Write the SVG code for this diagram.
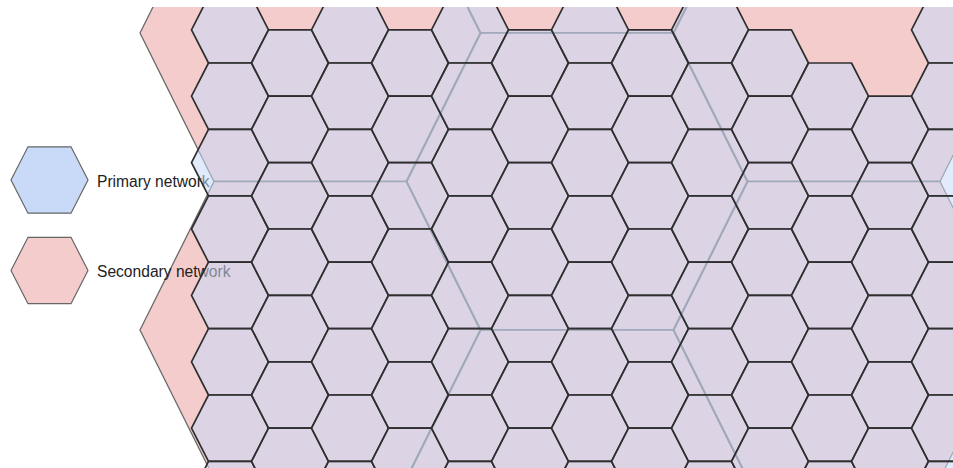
<svg xmlns="http://www.w3.org/2000/svg" xmlns:xlink="http://www.w3.org/1999/xlink" width="953" height="468" viewBox="0 0 953 468">
  <style>
    .big { fill: #f4cccc; stroke: #6a6a6a; stroke-width: 1.3; }
    .cell { fill: #c9daf8; fill-opacity: 0.55; stroke: #2f2f2f; stroke-width: 1.7; stroke-linejoin: round; }
    .lg-p { fill: #c9daf8; stroke: #666666; stroke-width: 1.2; }
    .lg-s { fill: #f4cccc; stroke: #666666; stroke-width: 1.2; }
    .label { font-family: "Liberation Sans", Arial, sans-serif; font-size: 15.6px; fill: #222222; }
  </style>
  <defs>
    <clipPath id="view"><rect x="0" y="7" width="953" height="461"/></clipPath>
    <polygon id="h" points="-38.5,0 -21.5,-33.2 21.5,-33.2 38.5,0 21.5,33.2 -21.5,33.2"/>
    <polygon id="H" points="-170,0 -96,-148.5 96,-148.5 170,0 96,148.5 -96,148.5"/>
    <g id="colE">
      <use xlink:href="#h" y="96.2"/><use xlink:href="#h" y="162.6"/><use xlink:href="#h" y="229"/>
      <use xlink:href="#h" y="295.4"/><use xlink:href="#h" y="361.8"/><use xlink:href="#h" y="428.2"/>
      <use xlink:href="#h" y="494.6"/>
    </g>
    <g id="colO">
      <use xlink:href="#h" y="129.4"/><use xlink:href="#h" y="195.8"/><use xlink:href="#h" y="262.2"/>
      <use xlink:href="#h" y="328.6"/><use xlink:href="#h" y="395"/><use xlink:href="#h" y="461.4"/>
    </g>
  </defs>
  <rect width="953" height="468" fill="#ffffff"/>
  <g clip-path="url(#view)">
    <g id="secondary-network">
      <use class="big" xlink:href="#H" x="310" y="33"/>
      <use class="big" xlink:href="#H" x="310" y="330"/>
      <use class="big" xlink:href="#H" x="577" y="-115.5"/>
      <use class="big" xlink:href="#H" x="577" y="181.5"/>
      <use class="big" xlink:href="#H" x="577" y="478.5"/>
      <use class="big" xlink:href="#H" x="844" y="33"/>
      <use class="big" xlink:href="#H" x="844" y="330"/>
    </g>
    <g id="legend-primary">
      <use class="lg-p" xlink:href="#h" x="49.5" y="180"/>
      <text class="label" x="97" y="186.5">Primary network</text>
    </g>
    <g id="legend-secondary">
      <use class="lg-s" xlink:href="#h" x="49.5" y="270.5"/>
      <text class="label" x="97" y="276.5">Secondary network</text>
    </g>
    <g id="primary-network" class="cell">
      <g id="col0"><use xlink:href="#h" x="230" y="29.8"/><use xlink:href="#colE" x="230"/></g>
      <g id="col1"><use xlink:href="#h" x="290" y="63"/><use xlink:href="#colO" x="290"/></g>
      <g id="col2"><use xlink:href="#h" x="350" y="29.8"/><use xlink:href="#colE" x="350"/></g>
      <g id="col3"><use xlink:href="#h" x="410" y="63"/><use xlink:href="#colO" x="410"/></g>
      <g id="col4"><use xlink:href="#h" x="470" y="29.8"/><use xlink:href="#colE" x="470"/></g>
      <g id="col5"><use xlink:href="#h" x="530" y="63"/><use xlink:href="#colO" x="530"/></g>
      <g id="col6"><use xlink:href="#h" x="590" y="29.8"/><use xlink:href="#colE" x="590"/></g>
      <g id="col7"><use xlink:href="#h" x="650" y="63"/><use xlink:href="#colO" x="650"/></g>
      <g id="col8"><use xlink:href="#h" x="710" y="29.8"/><use xlink:href="#colE" x="710"/></g>
      <g id="col9"><use xlink:href="#h" x="770" y="63"/><use xlink:href="#colO" x="770"/></g>
      <g id="col10"><use xlink:href="#colE" x="830"/></g>
      <g id="col11"><use xlink:href="#colO" x="890"/></g>
      <g id="col12"><use xlink:href="#h" x="950" y="29.8"/><use xlink:href="#colE" x="950"/></g>
    </g>
  </g>
</svg>
